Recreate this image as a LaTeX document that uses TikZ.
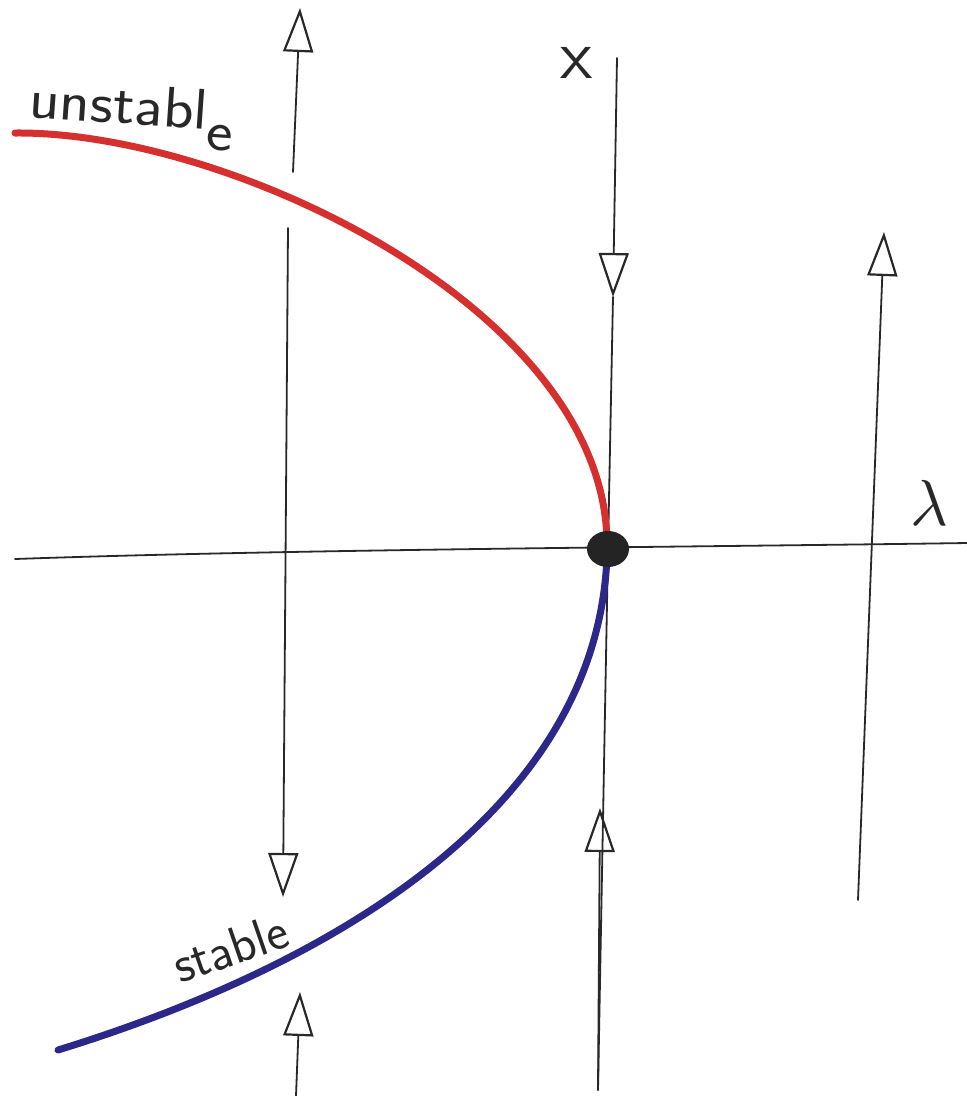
\documentclass[tikz,border=0pt]{standalone}
\usetikzlibrary{arrows.meta}
\definecolor{curvered}{RGB}{214,48,46}
\definecolor{curveblue}{RGB}{44,40,138}
\definecolor{ink}{RGB}{40,40,40}
\tikzset{
  axis/.style={ink, line width=1.8pt, line cap=round},
  flow/.style={axis, -{Triangle[open, length=44pt, width=30pt, line width=2.2pt]}},
  branch/.style={line width=7pt, line cap=round},
  hand/.style={ink, font=\sffamily\fontsize{52}{60}\selectfont, inner sep=0pt}
}
\begin{document}
\begin{tikzpicture}[x=1pt, y=-1pt]
\useasboundingbox (0,0) rectangle (967,1096);
% coordinates
\coordinate (hL) at (15,559);
\coordinate (hR) at (967,543);
\coordinate (O) at (608,549);
% horizontal axis
\draw[axis] (hL) .. controls (300,549) and (700,547) .. (hR);
% left vertical line
\coordinate (L1a) at (293,172); \coordinate (L1b) at (300,8);
\coordinate (L2a) at (288,228); \coordinate (L2b) at (283,897);
\coordinate (L3a) at (296,1096); \coordinate (L3b) at (300,992);
\draw[flow] (L1a) -- (L1b);
\draw[flow] (L2a) -- (L2b);
\draw[flow] (L3a) -- (L3b);
% middle vertical line (x axis)
\coordinate (M0) at (617,58);
\coordinate (Mdown) at (613,297);
\coordinate (Mbot) at (598,1090);
\coordinate (Mup) at (600,808);
\draw[axis] (Mdown) -- (O) -- (Mbot);
\draw[flow] (M0) -- (Mdown);
\draw[flow] (Mbot) -- (Mup);
% right vertical line
\coordinate (R0) at (858,900);
\coordinate (R1) at (884,232);
\draw[flow] (R0) -- (R1);
% branches
\coordinate (uS) at (15,133);
\coordinate (uE) at (607,543);
\coordinate (sS) at (607,556);
\coordinate (sE) at (58,1050);
\draw[branch, curvered] (uS) .. controls (230,131) and (605,310) .. (uE);
\draw[branch, curveblue] (sS) .. controls (598,800) and (350,960) .. (sE);
% saddle-node point
\fill[ink!90!black] (O) ellipse [x radius=21pt, y radius=18pt];
% labels
\node[hand, anchor=base west, rotate=-4] (unst) at (28,117)
  {\scalebox{1.22}[1.1]{unstabl\raisebox{-18pt}{e}}};
\node[hand, anchor=base west, rotate=19] (st) at (180,984) {stable};
\node[ink, inner sep=0pt] (xlab) at (577,63) {\scalebox{7}{\sffamily x}};
\node[ink, inner sep=0pt] (lam) at (929,503) {\scalebox{6.5}{$\lambda$}};
\end{tikzpicture}
\end{document}
